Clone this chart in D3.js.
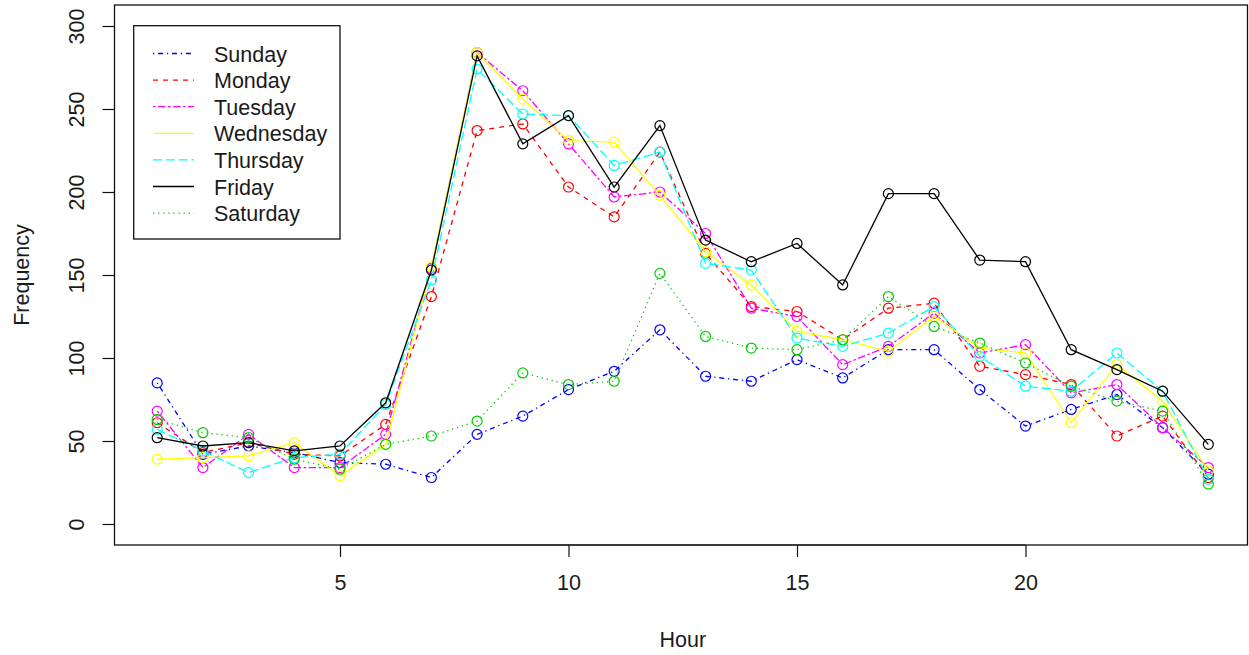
<!DOCTYPE html>
<html>
<head>
<meta charset="utf-8">
<script src="https://cdn.jsdelivr.net/npm/d3@7"></script>
<style>
  html, body { margin: 0; padding: 0; background: #fff; }
  svg { display: block; }
  text { font-family: "Liberation Sans", Arial, sans-serif; fill: #1a1a1a; }
</style>
</head>
<body>
<svg id="chart" width="1249" height="655"></svg>
<script>
// Hour of day 1..24
const hours = d3.range(1, 25);

// Frequency per hour for each weekday
const sunday    = [85, 42, 47, 43, 37, 36, 28, 54, 65, 81, 92, 117, 89, 86, 99, 88, 105, 105, 81, 59, 69, 78, 58, 30];
const monday    = [61, 43, 49, 42, 41, 60, 137, 237, 241, 203, 185, 224, 163, 131, 128, 111, 130, 133, 95, 90, 84, 53, 65, 28];
const tuesday   = [68, 34, 54, 34, 34, 54, 154, 284, 261, 229, 197, 200, 175, 130, 125, 96, 107, 127, 103, 108, 79, 84, 58, 34];
const wednesday = [39, 40, 41, 49, 29, 48, 155, 284, 256, 231, 230, 198, 164, 144, 116, 111, 104, 125, 106, 103, 61, 96, 74, 32];
const thursday  = [57, 44, 31, 40, 42, 72, 147, 274, 247, 246, 216, 224, 157, 153, 112, 107, 115, 131, 101, 83, 80, 103, 80, 27];
const friday    = [52, 47, 49, 44, 47, 73, 153, 282, 229, 246, 203, 240, 171, 158, 169, 144, 199, 199, 159, 158, 105, 93, 80, 48];
const saturday  = [63, 55, 52, 39, 33, 48, 53, 62, 91, 84, 86, 151, 113, 106, 105, 111, 137, 119, 109, 97, 83, 74, 68, 24];

const dayNames = ["Sunday", "Monday", "Tuesday", "Wednesday", "Thursday", "Friday", "Saturday"];
const dayValues = [sunday, monday, tuesday, wednesday, thursday, friday, saturday];

const xTicks = [5, 10, 15, 20];
const yTicks = [0, 50, 100, 150, 200, 250, 300];

// Line colours and dash patterns per day
const colors = ["#0000ff", "#ff0000", "#ff00ff", "#ffff00", "#00ffff", "#000000", "#00cd00"];
const dashes = ["1.3,3.8,5,3.8", "5,5", "2.5,2.5,7.5,2.5", null, "9,3.8", null, "1.3,3.8"];

const FONT = "21.5px";

const svg = d3.select("#chart");

const box = { left: 114.5, right: 1247.5, top: 5, bottom: 545 };

const x = d3.scaleLinear().domain([1, 24]).range([157.2, 1208.3]);
const y = d3.scaleLinear().domain([0, 300]).range([524, 26]);

// Plot frame
svg.append("rect")
  .attr("x", box.left).attr("y", box.top)
  .attr("width", box.right - box.left).attr("height", box.bottom - box.top)
  .attr("fill", "none").attr("stroke", "#111").attr("stroke-width", 1.3);

// X axis
const xAxis = svg.append("g")
  .attr("transform", `translate(0,${box.bottom})`)
  .call(d3.axisBottom(x).tickValues(xTicks).tickSize(12).tickPadding(18).tickFormat(d3.format("d")));
xAxis.select(".domain").attr("d", `M${x(5)},0H${x(20)}`).attr("stroke", "#111");
xAxis.selectAll(".tick line").attr("stroke", "#111").attr("stroke-width", 1.2);
xAxis.selectAll(".tick text").attr("font-size", FONT).attr("fill", "#1a1a1a")
  .attr("font-family", "'Liberation Sans', Arial, sans-serif");

// Y axis with labels turned parallel to the axis
const yAxis = svg.append("g")
  .attr("transform", `translate(${box.left},0)`)
  .call(d3.axisLeft(y).tickValues(yTicks).tickSize(12).tickFormat(d3.format("d")));
yAxis.select(".domain").attr("d", `M0,${y(0)}V${y(300)}`).attr("stroke", "#111");
yAxis.selectAll(".tick line").attr("stroke", "#111").attr("stroke-width", 1.2);
yAxis.selectAll(".tick text")
  .attr("font-size", FONT).attr("fill", "#1a1a1a")
  .attr("font-family", "'Liberation Sans', Arial, sans-serif")
  .attr("x", null).attr("dy", null)
  .attr("text-anchor", "middle")
  .attr("transform", "translate(-31,0) rotate(-90)");

// Axis titles
svg.append("text")
  .attr("x", x(12.5)).attr("y", 647)
  .attr("text-anchor", "middle").attr("font-size", FONT)
  .text("Hour");
svg.append("text")
  .attr("transform", `translate(29,${(box.top + box.bottom) / 2}) rotate(-90)`)
  .attr("text-anchor", "middle").attr("font-size", FONT)
  .text("Frequency");

// Series lines and point circles
const line = d3.line().x((d, i) => x(hours[i])).y(d => y(d));

dayValues.forEach((vals, k) => {
  const g = svg.append("g");
  g.append("path")
    .datum(vals)
    .attr("d", line)
    .attr("fill", "none")
    .attr("stroke", colors[k])
    .attr("stroke-width", 1.3)
    .attr("stroke-dasharray", dashes[k]);
  g.selectAll("circle")
    .data(vals)
    .join("circle")
    .attr("cx", (d, i) => x(hours[i]))
    .attr("cy", d => y(d))
    .attr("r", 5)
    .attr("fill", "none")
    .attr("stroke", colors[k])
    .attr("stroke-width", 1.2);
});

// Legend
const leg = svg.append("g");
leg.append("rect")
  .attr("x", 133.7).attr("y", 25.7)
  .attr("width", 340 - 133.7).attr("height", 239 - 25.7)
  .attr("fill", "#fff").attr("stroke", "#111").attr("stroke-width", 1.3);

dayNames.forEach((name, k) => {
  const ry = 53.5 + k * 26.6;
  leg.append("line")
    .attr("x1", 153).attr("x2", 194)
    .attr("y1", ry).attr("y2", ry)
    .attr("stroke", colors[k]).attr("stroke-width", 1.3)
    .attr("stroke-dasharray", dashes[k]);
  leg.append("text")
    .attr("x", 214).attr("y", ry + 8)
    .attr("font-size", FONT)
    .text(name);
});
</script>
</body>
</html>
